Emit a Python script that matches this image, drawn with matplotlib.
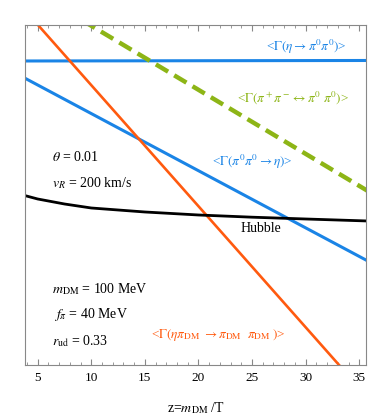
import numpy as np
import matplotlib
matplotlib.use("Agg")
import matplotlib.pyplot as plt

plt.rcParams['font.family'] = ['Liberation Serif', 'DejaVu Serif']
plt.rcParams['mathtext.fontset'] = 'stix'

# log10 of the rates, arbitrary units
z_eta_decay = [3.6, 35.8]
eta_decay = [30.4, 30.45]

z_inverse = [3.6, 35.8]
inverse_decay = [28.8, 10.4]

z_dm = [3.7, 5.03, 33.2, 35.8]
dm_scatter = [35.6, 34.0, -0.1, -3.2]

z_charge = [3.7, 9.88, 35.8]
charge_exchange = [37.9, 34.0, 17.4]

z_hubble = [3.6, 5, 7.5, 10, 15, 20, 25, 30, 35.8]
hubble = [17.0, 16.6, 16.1, 15.7, 15.3, 15.0, 14.78, 14.6, 14.4]

blue = '#1a84e6'
orange = '#ff5a0f'
green = '#8db516'

fig = plt.figure(figsize=(3.91, 4.15), dpi=100)
ax = fig.add_axes([0.064, 0.1205, 0.872, 0.8193])

ax.plot(z_eta_decay, eta_decay, color=blue, lw=2.2)
ax.plot(z_inverse, inverse_decay, color=blue, lw=2.2)
ax.plot(z_dm, dm_scatter, color=orange, lw=1.9)
ax.plot(z_charge, charge_exchange, color=green, lw=3.2, dashes=(3.2, 1.6))
ax.plot(z_hubble, hubble, color='black', lw=2.0)

ax.set_xlim(3.82, 35.63)
ax.set_ylim(0, 34)

ax.set_xticks([5, 10, 15, 20, 25, 30, 35])
ax.set_xticks(np.arange(4, 36, 1), minor=True)
ax.set_yticks([])
ax.tick_params(axis='x', which='both', direction='in', top=True, labelsize=9.5,
               color='#888888', pad=5)
ax.tick_params(axis='x', which='major', length=4)
ax.tick_params(axis='x', which='minor', length=2)
for s in ax.spines.values():
    s.set_color('#888888')
    s.set_linewidth(0.8)

ax.set_xlabel(r'z=$m_{\rm DM}$ /T', fontsize=10, labelpad=12)

fs = 9.5
ax.text(33.8, 31.8, r'<$\Gamma(\eta \rightarrow \pi^0\pi^0)$>', color=blue,
        fontsize=fs, ha='right', va='center')
ax.text(34.0, 26.7, r'<$\Gamma(\pi^+\pi^- \leftrightarrow \pi^0\ \pi^0)$>', color=green,
        fontsize=fs, ha='right', va='center')
ax.text(21.3, 20.3, r'<$\Gamma(\pi^0\pi^0 \rightarrow \eta)$>', color=blue,
        fontsize=fs, ha='left', va='center')
ax.text(23.9, 13.6, 'Hubble', color='black', fontsize=10, ha='left', va='center')
ax.text(6.3, 20.8, r'$\theta$ = 0.01', fontsize=10, ha='left', va='center')
ax.text(6.3, 18.2, r'$v_R$ = 200 km/s', fontsize=10, ha='left', va='center')
ax.text(6.3, 7.6, r'$m_{\rm DM}$ = 100 MeV', fontsize=10, ha='left', va='center')
ax.text(6.5, 5.0, r'$f_\pi$ = 40 MeV', fontsize=10, ha='left', va='center')
ax.text(6.3, 2.4, r'$r_{\rm ud}$ = 0.33', fontsize=10, ha='left', va='center')
ax.text(15.6, 3.0, r'<$\Gamma(\eta\pi_{\rm DM}\ \rightarrow \pi_{\rm DM}\ \ \pi_{\rm DM}\ )$>',
        color=orange, fontsize=fs, ha='left', va='center')

fig.savefig('out.png', dpi=100)
